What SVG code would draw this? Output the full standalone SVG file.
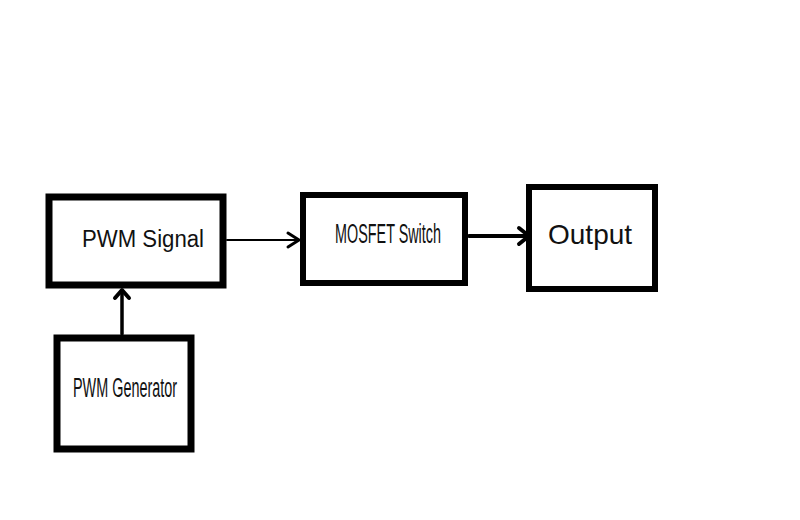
<svg xmlns="http://www.w3.org/2000/svg" width="800" height="520" viewBox="0 0 800 520">
<style>
.box{fill:#fff;stroke:#000;stroke-width:7}
.t{font-family:"Liberation Sans",Arial,sans-serif;fill:#111}
.c{fill:none;stroke:#000;stroke-linecap:round;stroke-linejoin:round}
</style>
<rect width="800" height="520" fill="#fff"/>
<g id="pwm-signal">
<rect class="box" x="49" y="197" width="174" height="88"/>
<text class="t" x="82" y="247" font-size="23" textLength="122" lengthAdjust="spacingAndGlyphs">PWM Signal</text>
</g>
<g id="mosfet-switch">
<rect class="box" x="303" y="195" width="162" height="88" style="stroke-width:6"/>
<text class="t" x="335" y="243" font-size="27" textLength="106" lengthAdjust="spacingAndGlyphs">MOSFET Switch</text>
</g>
<g id="output">
<rect class="box" x="529" y="187" width="126" height="102" style="stroke-width:6"/>
<text class="t" x="548" y="244" font-size="28">Output</text>
</g>
<g id="pwm-generator">
<rect class="box" x="57" y="338" width="134" height="111"/>
<text class="t" x="73" y="397" font-size="27" textLength="104" lengthAdjust="spacingAndGlyphs">PWM Generator</text>
</g>
<g id="connectors">
<path class="c" d="M227 240 H299" stroke-width="2"/>
<path class="c" d="M288 233 L299 240 L288 247" stroke-width="3"/>
<path class="c" d="M469 236 H529" stroke-width="4"/>
<path class="c" d="M519 228 L529 236 L519 244" stroke-width="4"/>
<path class="c" d="M122 334 V291" stroke-width="3.5"/>
<path class="c" d="M115 298 L122 290 L129 298" stroke-width="4"/>
</g>
</svg>
